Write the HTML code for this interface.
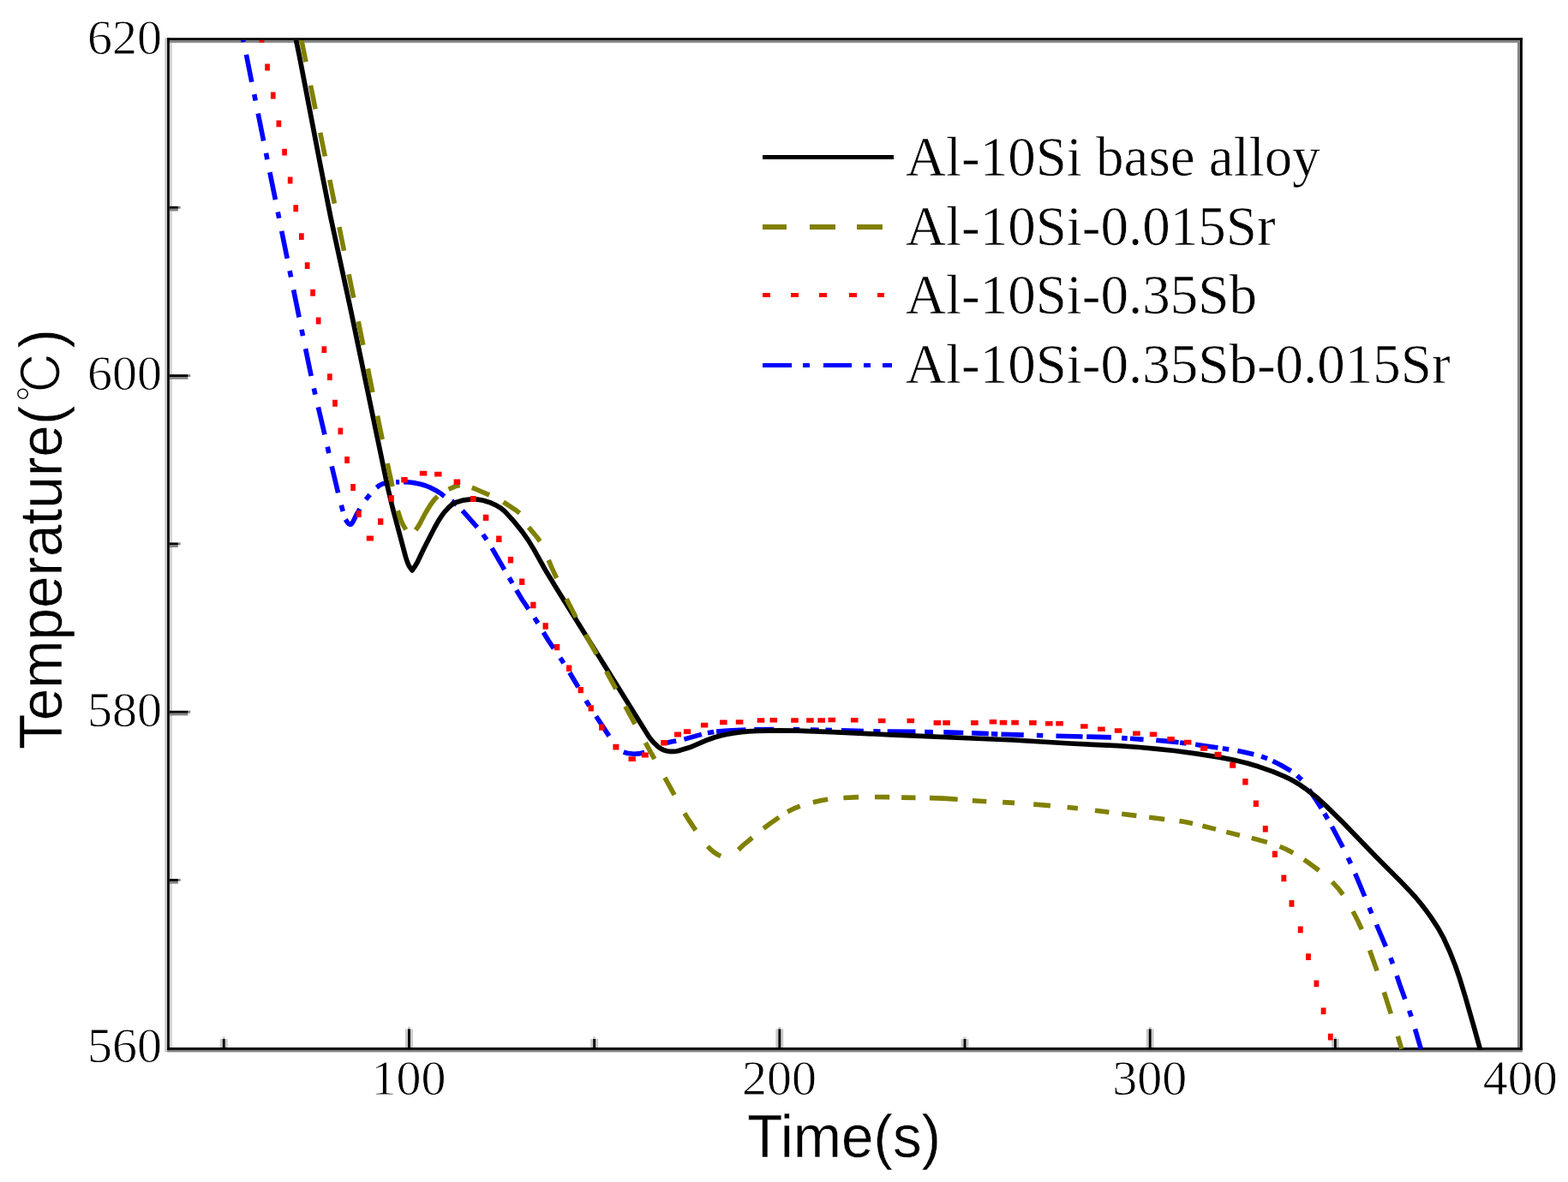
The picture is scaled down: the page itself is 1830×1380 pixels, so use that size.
<!DOCTYPE html>
<html lang="en"><head><meta charset="utf-8"><title>Cooling curves of Al-10Si alloys</title>
<style>
html,body{margin:0;padding:0;background:#fff;}
body{width:1830px;height:1380px;overflow:hidden;position:relative;}
svg{display:block;position:absolute;left:0;top:0;}
.tick{font-family:"Liberation Serif","DejaVu Serif",serif;font-size:58px;fill:#000;stroke:#fff;stroke-width:0.8px;}
.leg{font-family:"Liberation Serif","DejaVu Serif",serif;font-size:65px;fill:#000;stroke:#fff;stroke-width:0.6px;}
.ttl{font-family:"Liberation Sans","Noto Sans CJK SC","DejaVu Sans",sans-serif;font-size:70px;fill:#000;stroke:#fff;stroke-width:0.4px;}
.deg{font-family:"IPAGothic","Noto Sans CJK JP","Noto Sans CJK SC","DejaVu Sans",sans-serif;stroke-width:1.3px;}
.cv{fill:none;stroke-linecap:butt;stroke-linejoin:round;}
</style></head><body>
<svg xmlns="http://www.w3.org/2000/svg" width="1830" height="1380" viewBox="0 0 1830 1380">
<rect x="0" y="0" width="1830" height="1380" fill="#fff"/>
<defs><clipPath id="plot"><rect x="198" y="47" width="1576" height="1179"/></clipPath></defs>
<g>
<rect x="192.2" y="44.2" width="2.9" height="1184.2" fill="#cacaca"/>
<rect x="197.85" y="46.9" width="2.95" height="1176.1" fill="#d2d2d2"/>
<rect x="1771" y="46.9" width="3" height="1176.1" fill="#848484"/>
<rect x="195.1" y="46.9" width="1581.8" height="3" fill="#848484"/>
<rect x="195.1" y="1225.9" width="1581.8" height="2.5" fill="#848484"/>
<rect x="473" y="1201.4" width="3" height="21.6" fill="#cacaca"/>
<rect x="478.9" y="1201.4" width="3" height="21.6" fill="#cacaca"/>
<rect x="476" y="1198.8" width="2.9" height="2.6" fill="#cacaca"/>
<rect x="476" y="1201.4" width="2.9" height="21.6" fill="#000"/>
<rect x="905.37" y="1201.4" width="3" height="21.6" fill="#cacaca"/>
<rect x="911.27" y="1201.4" width="3" height="21.6" fill="#cacaca"/>
<rect x="908.37" y="1198.8" width="2.9" height="2.6" fill="#cacaca"/>
<rect x="908.37" y="1201.4" width="2.9" height="21.6" fill="#000"/>
<rect x="1337.74" y="1201.4" width="3" height="21.6" fill="#cacaca"/>
<rect x="1343.64" y="1201.4" width="3" height="21.6" fill="#cacaca"/>
<rect x="1340.74" y="1198.8" width="2.9" height="2.6" fill="#cacaca"/>
<rect x="1340.74" y="1201.4" width="2.9" height="21.6" fill="#000"/>
<rect x="256.815" y="1213" width="3" height="10" fill="#cacaca"/>
<rect x="262.715" y="1213" width="3" height="10" fill="#cacaca"/>
<rect x="259.815" y="1210.4" width="2.9" height="2.6" fill="#cacaca"/>
<rect x="259.815" y="1213" width="2.9" height="10" fill="#000"/>
<rect x="689.185" y="1213" width="3" height="10" fill="#cacaca"/>
<rect x="695.085" y="1213" width="3" height="10" fill="#cacaca"/>
<rect x="692.185" y="1210.4" width="2.9" height="2.6" fill="#cacaca"/>
<rect x="692.185" y="1213" width="2.9" height="10" fill="#000"/>
<rect x="1121.56" y="1213" width="3" height="10" fill="#cacaca"/>
<rect x="1127.46" y="1213" width="3" height="10" fill="#cacaca"/>
<rect x="1124.56" y="1210.4" width="2.9" height="2.6" fill="#cacaca"/>
<rect x="1124.56" y="1213" width="2.9" height="10" fill="#000"/>
<rect x="1553.92" y="1213" width="3" height="10" fill="#cacaca"/>
<rect x="1559.83" y="1213" width="3" height="10" fill="#cacaca"/>
<rect x="1556.92" y="1210.4" width="2.9" height="2.6" fill="#cacaca"/>
<rect x="1556.92" y="1213" width="2.9" height="10" fill="#000"/>
<rect x="197.85" y="832.6" width="21.6" height="2.8" fill="#848484"/>
<rect x="219.45" y="829.75" width="2.8" height="2.85" fill="#848484"/>
<rect x="197.85" y="829.75" width="21.6" height="2.85" fill="#000"/>
<rect x="197.85" y="440" width="21.6" height="2.8" fill="#848484"/>
<rect x="219.45" y="437.15" width="2.8" height="2.85" fill="#848484"/>
<rect x="197.85" y="437.15" width="21.6" height="2.85" fill="#000"/>
<rect x="197.85" y="1028.9" width="10" height="2.8" fill="#848484"/>
<rect x="207.85" y="1026.05" width="2.8" height="2.85" fill="#848484"/>
<rect x="197.85" y="1026.05" width="10" height="2.85" fill="#000"/>
<rect x="197.85" y="636.3" width="10" height="2.8" fill="#848484"/>
<rect x="207.85" y="633.45" width="2.8" height="2.85" fill="#848484"/>
<rect x="197.85" y="633.45" width="10" height="2.85" fill="#000"/>
<rect x="197.85" y="243.7" width="10" height="2.8" fill="#848484"/>
<rect x="207.85" y="240.85" width="2.8" height="2.85" fill="#848484"/>
<rect x="197.85" y="240.85" width="10" height="2.85" fill="#000"/>
<rect x="195.1" y="44.2" width="2.75" height="1181.7" fill="#000"/>
<rect x="1774" y="44.2" width="2.9" height="1181.7" fill="#000"/>
<rect x="195.1" y="44.2" width="1581.8" height="2.7" fill="#000"/>
<rect x="195.1" y="1222.95" width="1581.8" height="2.95" fill="#000"/>
</g>
<text class="tick" x="189" y="1240.3" text-anchor="end">560</text>
<text class="tick" x="189" y="847.7" text-anchor="end">580</text>
<text class="tick" x="189" y="455.1" text-anchor="end">600</text>
<text class="tick" x="189" y="62.5" text-anchor="end">620</text>
<text class="tick" x="477.1" y="1277.6" font-size="57" text-anchor="middle">100</text>
<text class="tick" x="909.5" y="1277.6" font-size="57" text-anchor="middle">200</text>
<text class="tick" x="1341.8" y="1277.6" font-size="57" text-anchor="middle">300</text>
<text class="tick" x="1774.2" y="1277.6" font-size="57" text-anchor="middle">400</text>
<text class="ttl" transform="translate(872.2 1350.7) scale(0.963 1)" x="0" y="0">Time(s)</text>
<text class="ttl" transform="translate(71.5 875) rotate(-90) scale(0.9645 1)" x="0" y="0">Temperature(<tspan class="deg" dx="4" dy="0" font-size="63.5">℃</tspan><tspan dx="2" dy="0">)</tspan></text>
<path d="M890.2 183.6H1042.7" stroke="#000000" stroke-width="5.6" fill="none" shape-rendering="crispEdges"/>
<text class="leg" x="1057" y="204.6">Al-10Si base alloy</text>
<path d="M890.2 265.2H918.1 M945.4 265.2H974.9 M1000 265.2H1030.1" stroke="#808000" stroke-width="5.6" fill="none" shape-rendering="crispEdges"/>
<text class="leg" x="1057" y="286.2">Al-10Si-0.015Sr</text>
<path d="M890.2 344.5H899 M923.2 344.5H931.7 M956.3 344.5H964.5 M990.8 344.5H999.5 M1023.9 344.5H1032.3" stroke="#ff0000" stroke-width="5.6" fill="none" shape-rendering="crispEdges"/>
<text class="leg" x="1057" y="365.5">Al-10Si-0.35Sb</text>
<path d="M890.2 426.3H923.6 M936.9 426.3H945.4 M961.3 426.3H994 M1007.7 426.3H1016.2 M1029.6 426.3H1040.5" stroke="#0000ff" stroke-width="5.6" fill="none" shape-rendering="crispEdges"/>
<text class="leg" x="1057" y="447.3">Al-10Si-0.35Sb-0.015Sr</text>
<g clip-path="url(#plot)">
<path class="cv" stroke="#0000ff" stroke-width="5.6" d="M282.9 41.5 L284.3 48.9 M287.4 63.8 L293.8 95.8 M296.7 110.1 L298.2 117.5 M301.2 132.5 L307.6 164.5 M310.5 178.8 L311.9 186.2 M314.9 201.1 L321.4 233.1 M324.2 247.5 L325.7 254.8 M328.7 269.8 L335.2 301.8 M338.1 316.1 L339.6 323.5 M342.6 338.4 L349.1 370.4 M352.0 384.8 L353.5 392.1 M356.6 407.1 L363.2 439.0 M366.3 453.3 L367.9 460.7 M371.4 475.4 L378.9 507.4 M382.2 521.7 L383.8 529.1 M387.2 544.3 L394.6 575.4 M398.3 589.8 L400.2 597.0 M403.2 606.5 L405.4 609.8 L407.1 611.6 L408.8 612.3 L410.1 611.8 L411.1 610.5 L412.2 608.8 L416.7 599.6 L420.0 594.1 M427.0 583.3 L431.7 577.4 M439.5 569.3 L442.7 566.8 L446.4 565.0 L450.4 563.9 L456.0 563.2 M462.1 562.9 L466.2 562.7 M471.1 562.7 L477.6 563.0 L484.5 563.9 L490.7 565.2 L496.7 567.0 L502.6 569.4 L508.9 572.7 L513.4 575.4 L518.7 579.5 M527.2 584.7 L530.2 586.9 L533.0 589.4 M539.7 596.2 L557.0 615.7 M563.7 624.0 L568.0 630.1 M574.1 639.9 L588.7 665.1 M594.2 674.5 L598.0 680.9 M602.7 689.0 L609.5 700.2 L616.9 711.1 M623.8 721.3 L627.9 727.6 M634.2 738.2 L640.0 747.8 L646.3 757.1 M653.8 768.0 L657.9 774.3 M664.8 785.2 L674.9 802.2 M683.9 817.9 L687.9 824.3 M695.7 836.3 L710.9 859.4 M727.8 877.9 L730.1 878.8 L732.8 879.5 L740.0 880.2 L745.8 879.9 L752.2 878.6 M778.7 867.2 L783.3 866.0 L789.2 864.9 M798.4 863.1 L818.9 857.4 M825.9 855.8 L833.2 854.5 M836.1 854.1 L849.6 853.0 L870.5 852.1 M880.3 851.8 L903.3 851.5 M925.8 851.6 L933.2 851.7 M945.9 852.0 L955.7 852.2 M963.5 852.3 L970.9 852.5 M982.0 852.8 L1007.9 853.5 M1019.3 853.8 L1027.5 854.0 M1035.7 854.1 L1068.5 854.4 M1079.2 854.6 L1089.0 854.7 M1101.3 854.9 L1124.3 855.5 M1134.1 855.8 L1153.8 856.6 M1157.0 856.8 L1164.4 857.1 M1168.5 857.2 L1194.8 858.1 M1209.9 858.5 L1217.3 858.7 M1232.5 859.2 L1263.6 860.0 M1268.2 860.1 L1296.9 860.9 M1309.2 861.6 L1315.7 862.1 M1319.0 862.3 L1334.6 863.4 M1349.3 864.3 L1362.5 865.4 L1375.6 866.8 M1377.1 867.0 L1384.5 867.9 M1395.2 869.3 L1421.5 872.9 M1426.8 873.7 L1434.2 874.9 M1444.4 876.6 L1452.5 878.2 L1463.3 880.7 M1472.1 883.2 L1479.1 885.7 M1485.4 888.4 L1494.4 893.0 L1506.7 900.2 M1513.8 905.4 L1519.2 910.6 M1527.7 921.7 L1537.0 935.5 L1542.2 943.9 M1545.8 949.8 L1549.6 956.2 M1554.5 965.0 L1567.3 989.2 M1573.3 1001.5 L1576.5 1008.3 M1581.6 1019.9 L1592.7 1046.5 M1598.0 1059.6 L1600.9 1066.5 M1606.5 1079.5 L1617.4 1105.1 M1622.9 1118.2 L1625.5 1125.2 M1630.2 1139.1 L1634.8 1152.8 L1639.8 1166.5 M1644.7 1179.8 L1647.1 1186.9 M1651.5 1201.4 L1658.4 1224.8"/>
<path class="cv" stroke="#000000" stroke-width="5.7" d="M340.5 22.0 L349.8 67.4 L374.5 196.0 L385.8 253.1 L409.2 361.1 L452.3 568.2 L458.3 593.3 L473.4 650.0 L475.1 655.3 L476.7 659.4 L478.1 661.8 L481.0 666.0 L484.8 660.3 L487.2 656.2 L494.8 640.3 L501.7 626.7 L507.5 615.5 L511.5 608.4 L515.6 602.0 L518.9 597.6 L523.6 592.5 L527.4 589.2 L530.0 587.6 L533.1 586.2 L539.9 584.2 L547.8 583.2 L553.1 583.0 L557.4 583.1 L564.0 584.2 L571.2 586.4 L578.4 589.6 L584.6 593.3 L587.6 595.7 L590.4 598.3 L600.2 609.2 L609.4 620.6 L617.1 631.6 L622.6 640.7 L636.2 665.0 L649.4 686.7 L757.4 860.2 L762.0 866.0 L767.6 871.5 L770.0 873.3 L772.5 874.7 L774.9 875.8 L777.9 876.7 L781.5 877.3 L785.8 877.4 L789.7 877.0 L793.6 876.1 L805.2 872.6 L826.0 863.7 L834.4 860.7 L841.7 858.7 L848.9 857.2 L856.2 855.9 L865.5 854.7 L873.5 853.9 L883.5 853.3 L909.3 852.8 L930.3 853.1 L970.5 854.6 L1039.8 857.9 L1182.0 864.0 L1249.0 868.0 L1304.4 870.7 L1330.1 872.5 L1350.3 874.3 L1370.9 876.5 L1395.9 879.9 L1423.0 884.1 L1438.9 887.1 L1455.4 891.1 L1469.0 895.1 L1485.7 900.9 L1499.4 906.6 L1505.9 909.8 L1511.7 913.0 L1517.2 916.4 L1523.6 920.8 L1536.2 930.4 L1547.9 941.1 L1567.8 960.7 L1605.7 1000.0 L1634.6 1029.1 L1645.8 1040.7 L1652.0 1047.5 L1658.8 1055.7 L1663.8 1062.2 L1670.4 1071.4 L1678.4 1083.6 L1684.8 1095.2 L1692.0 1111.0 L1698.4 1127.3 L1703.6 1142.4 L1709.9 1163.0 L1720.0 1198.1 L1732.7 1244.0"/>
<path class="cv" stroke="#808000" stroke-width="5.6" d="M351.4 44.7 L357.0 72.3 M362.5 99.8 L368.1 127.4 M373.7 154.9 L379.3 182.5 M384.8 210.0 L390.4 237.6 M395.9 265.1 L401.5 292.7 M407.1 320.2 L412.7 347.8 M418.2 375.3 L423.8 402.9 M429.3 430.4 L434.9 458.0 M440.5 485.5 L446.2 513.1 M452.1 541.0 L458.0 568.0 M464.3 596.1 L466.1 602.2 L468.3 608.4 L470.4 612.8 L473.7 618.4 M485.0 618.8 L487.1 616.1 L489.2 612.9 L496.1 599.7 L502.3 589.5 L506.7 583.5 L510.6 579.6 M523.6 571.3 L531.2 567.9 L533.9 567.1 L536.7 566.7 M550.8 569.3 L554.4 570.7 L571.1 577.9 M587.5 586.1 L602.7 596.1 L606.4 599.2 M617.0 615.6 L626.4 626.7 L630.2 632.0 M640.2 653.9 L644.1 663.1 L649.6 675.0 M661.1 699.3 L672.2 720.8 M683.4 740.9 L696.3 763.8 M707.6 783.8 L718.9 804.4 M729.8 824.7 L741.1 845.4 M753.3 867.2 L763.9 886.1 M775.9 907.9 L787.1 928.2 M798.9 949.4 L804.2 957.9 L811.9 969.4 M825.9 988.1 L829.4 991.7 L832.8 994.6 L837.6 997.8 L841.2 999.6 M861.8 992.1 L867.9 986.3 L878.0 978.0 M891.1 967.3 L898.8 961.5 L909.1 954.2 M919.1 947.8 L926.2 944.2 L933.7 941.2 M948.9 936.7 L958.7 934.5 L966.2 933.3 M984.4 931.5 L1002.1 930.6 M1021.0 930.5 L1038.2 930.6 M1052.1 931.1 L1068.5 931.4 M1084.9 931.6 L1101.3 932.1 L1117.7 933.3 M1134.9 934.8 L1151.3 935.8 M1170.2 936.6 L1184.1 937.4 M1206.2 939.0 L1225.9 940.6 M1245.6 942.5 L1257.9 943.8 M1278.0 946.2 L1294.4 948.3 M1309.2 950.2 L1326.4 952.4 M1341.1 954.3 L1359.2 956.5 M1376.4 958.6 L1384.0 959.8 L1392.0 961.4 M1403.4 964.2 L1419.0 968.1 M1431.3 971.4 L1446.9 975.3 M1460.8 978.4 L1478.9 983.4 M1493.6 988.3 L1501.0 991.5 L1509.2 995.7 M1521.9 1003.6 L1529.5 1008.9 L1539.4 1016.3 M1554.8 1029.6 L1561.5 1036.8 L1567.4 1044.5 M1579.0 1064.0 L1585.3 1076.3 L1589.3 1085.2 M1598.6 1109.5 L1607.1 1133.4 M1615.3 1158.3 L1623.3 1183.5 M1631.4 1209.7 L1635.8 1224.7"/>
<path fill="#ff0000" d="M302.7 41.8h5.7v7.9h-5.7z M309.2 74.5h5.7v7.9h-5.7z M315.9 107.6h5.7v7.9h-5.7z M322.5 140.4h5.7v7.9h-5.7z M329.2 173.7h5.7v7.9h-5.7z M335.8 206.5h5.7v7.9h-5.7z M342.4 239.3h5.7v7.9h-5.7z M349.0 272.2h5.7v7.9h-5.7z M355.8 306.2h5.7v7.9h-5.7z M362.2 337.8h5.7v7.9h-5.7z M368.8 370.6h5.7v7.9h-5.7z M375.5 404.2h5.7v7.9h-5.7z M382.0 436.2h5.7v7.9h-5.7z M388.1 466.8h5.7v7.9h-5.7z M394.5 499.4h5.7v7.9h-5.7z M402.2 533.0h5.7v7.9h-5.7z M409.2 565.0h5.7v7.9h-5.7z M415.8 596.1h5.9v7.8h-5.9z M427.7 625.5h8.3v5.9h-8.3z M441.0 605.3h6.3v7.5h-6.3z M453.5 578.3h6.3v7.4h-6.3z M468.3 556.9h7.4v6.5h-7.4z M489.8 549.7h8.5v5.7h-8.5z M507.1 550.7h8.4v5.8h-8.4z M529.6 559.6h7.6v6.4h-7.6z M548.9 579.0h6.8v7.1h-6.8z M563.8 600.8h6.5v7.3h-6.5z M579.1 625.5h6.4v7.4h-6.4z M592.8 650.1h6.3v7.5h-6.3z M606.1 675.5h6.2v7.5h-6.2z M619.2 702.7h6.3v7.5h-6.3z M633.5 727.3h6.3v7.4h-6.3z M647.0 751.9h6.3v7.4h-6.3z M661.0 776.5h6.3v7.4h-6.3z M674.6 801.9h6.3v7.4h-6.3z M686.6 823.2h6.3v7.4h-6.3z M699.1 845.4h6.5v7.3h-6.5z M715.4 868.7h7.0v6.9h-7.0z M733.5 883.2h8.4v5.8h-8.4z M748.8 878.5h8.0v6.1h-8.0z M771.2 864.1h7.7v6.3h-7.7z M787.0 854.4h8.0v6.1h-8.0z M797.9 851.2h8.3v5.9h-8.3z M817.9 843.8h8.4v5.7h-8.4z M840.0 840.6h8.6v5.6h-8.6z M858.8 840.2h8.6v5.6h-8.6z M883.7 838.2h8.6v5.6h-8.6z M898.5 837.9h8.6v5.6h-8.6z M923.2 838.2h8.6v5.6h-8.6z M941.1 838.2h8.6v5.6h-8.6z M954.4 838.2h8.6v5.6h-8.6z M966.5 837.7h8.6v5.6h-8.6z M992.9 837.9h8.6v5.6h-8.6z M1024.9 838.7h8.6v5.6h-8.6z M1058.5 838.7h8.6v5.6h-8.6z M1089.6 841.1h8.6v5.6h-8.6z M1100.3 841.1h8.6v5.6h-8.6z M1133.1 841.1h8.6v5.6h-8.6z M1154.7 840.0h8.6v5.6h-8.6z M1166.7 840.8h8.6v5.6h-8.6z M1180.3 840.8h8.6v5.6h-8.6z M1201.1 841.1h8.6v5.6h-8.6z M1220.0 842.0h8.6v5.6h-8.6z M1232.3 842.0h8.6v5.6h-8.6z M1261.1 845.2h8.5v5.6h-8.5z M1281.1 848.5h8.6v5.6h-8.6z M1300.8 850.2h8.6v5.6h-8.6z M1322.1 853.4h8.6v5.6h-8.6z M1341.8 854.6h8.5v5.7h-8.5z M1362.4 859.9h8.4v5.7h-8.4z M1382.0 863.7h8.4v5.8h-8.4z M1401.0 870.8h8.2v5.9h-8.2z M1417.6 877.7h7.8v6.2h-7.8z M1435.2 890.0h7.1v6.8h-7.1z M1450.2 909.1h6.4v7.4h-6.4z M1462.8 934.5h6.1v7.6h-6.1z M1473.8 963.9h6.0v7.7h-6.0z M1484.9 993.4h6.0v7.7h-6.0z M1495.4 1021.5h5.9v7.8h-5.9z M1504.5 1051.0h5.9v7.8h-5.9z M1514.8 1081.5h5.9v7.8h-5.9z M1524.1 1113.3h5.8v7.8h-5.8z M1533.5 1144.5h5.8v7.8h-5.8z M1541.7 1176.4h5.8v7.8h-5.8z M1549.9 1206.8h5.8v7.8h-5.8z"/>
</g>
</svg>
</body></html>
